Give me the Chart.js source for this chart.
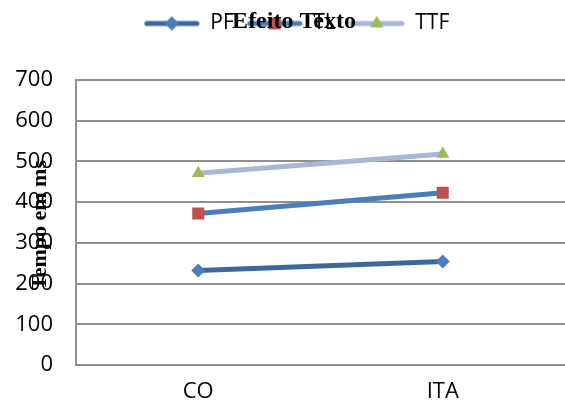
<!DOCTYPE html>
<html>
<head>
<meta charset="utf-8">
<script src="https://cdn.jsdelivr.net/npm/chart.js@4"></script>
<style>
  html, body { margin: 0; padding: 0; background: #fff; }
</style>
</head>
<body>
<canvas id="chart" width="565" height="407"></canvas>
<script>
const categories = ['CO', 'ITA'];
const seriesNames = ['PF', 'TL', 'TTF'];
const pfValues = [232, 254];
const tlValues = [372, 423];
const ttfValues = [471, 518];
const chartTitle = 'Efeito Texto';
const yAxisTitle = 'Tempo em ms';

const lineColors = ['#3E679B', '#4A7EBB', '#A6B7D8'];
const markerColors = ['#4A7EBB', '#C0504D', '#9BBB59'];
const markerShapes = ['rectRot', 'rect', 'triangle'];
const markerSizes = [7, 8.5, 7.5];

// small canvas for each legend entry: line with the marker in the middle
function makeLegendIcon(i) {
  const c = document.createElement('canvas');
  c.width = 56;
  c.height = 18;
  const ctx = c.getContext('2d');
  ctx.strokeStyle = lineColors[i];
  ctx.lineWidth = 5;
  ctx.lineCap = 'round';
  ctx.beginPath();
  ctx.moveTo(3, 9);
  ctx.lineTo(53, 9);
  ctx.stroke();
  ctx.fillStyle = markerColors[i];
  Chart.helpers.drawPoint(ctx, {pointStyle: markerShapes[i], radius: markerSizes[i], rotation: 0, borderWidth: 0}, 28, 9);
  ctx.fill();
  return c;
}

// legend sits a bit right of centre, with a gap under it
const legendShift = {
  id: 'legendShift',
  beforeLayout(chart) {
    const lg = chart.legend;
    if (!lg || lg._shifted) return;
    const fit = lg.fit.bind(lg);
    const draw = lg.draw.bind(lg);
    lg.fit = function () { fit(); this.height += 36; };
    lg.draw = function () {
      chart.ctx.save();
      chart.ctx.translate(14, 0);
      draw();
      chart.ctx.restore();
    };
    lg._shifted = true;
  }
};

const overlayText = {
  id: 'overlayText',
  afterDraw(chart) {
    const ctx = chart.ctx;
    ctx.save();
    ctx.fillStyle = '#000';
    ctx.textAlign = 'center';
    ctx.textBaseline = 'middle';
    ctx.font = 'bold 24px "Liberation Serif"';
    ctx.fillText(chartTitle, 294, 22);
    ctx.translate(40, 225);
    ctx.rotate(-Math.PI / 2);
    ctx.font = 'bold 22px "Liberation Serif"';
    ctx.fillText(yAxisTitle, 0, 0);
    ctx.restore();
  }
};

function noPadding(scale) {
  scale.paddingLeft = 0;
  scale.paddingRight = 0;
  scale.paddingTop = 0;
  scale.paddingBottom = 0;
}

const allValues = [pfValues, tlValues, ttfValues];

const datasets = seriesNames.map((name, i) => ({
  label: name,
  data: allValues[i],
  borderColor: lineColors[i],
  borderWidth: 5,
  backgroundColor: markerColors[i],
  pointBackgroundColor: markerColors[i],
  pointBorderWidth: 0,
  pointStyle: markerShapes[i],
  pointRadius: markerSizes[i],
  pointHoverRadius: markerSizes[i],
  tension: 0
}));

new Chart(document.getElementById('chart'), {
  type: 'line',
  data: { labels: categories, datasets: datasets },
  plugins: [legendShift, overlayText],
  options: {
    responsive: false,
    devicePixelRatio: 1,
    animation: false,
    layout: { padding: 0, autoPadding: false },
    plugins: {
      title: { display: false },
      tooltip: { enabled: false },
      legend: {
        position: 'top',
        labels: {
          usePointStyle: true,
          pointStyleWidth: 56,
          padding: 13,
          color: '#000',
          font: { family: 'Open Sans', size: 21 },
          generateLabels(chart) {
            return chart.data.datasets.map((ds, i) => ({
              text: ds.label,
              pointStyle: makeLegendIcon(i),
              datasetIndex: i,
              fillStyle: markerColors[i],
              strokeStyle: lineColors[i],
              lineWidth: 0,
              hidden: false
            }));
          }
        }
      }
    },
    scales: {
      x: {
        offset: true,
        grid: { display: false, drawTicks: false },
        border: { display: true, color: '#909090', width: 2 },
        ticks: { color: '#000', padding: 14, font: { family: 'Open Sans', size: 22 } },
        afterFit(scale) { scale.height = 42; noPadding(scale); }
      },
      y: {
        min: 0,
        max: 700,
        grid: { color: '#909090', lineWidth: 2, drawTicks: false },
        border: { display: true, color: '#909090', width: 2 },
        ticks: { stepSize: 100, color: '#000', padding: 23, font: { family: 'Open Sans', size: 22 } },
        afterFit(scale) { scale.width = 76; noPadding(scale); }
      }
    }
  }
});
</script>
</body>
</html>
